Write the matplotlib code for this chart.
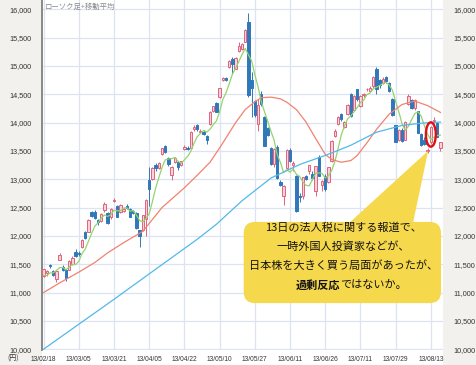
import numpy as np
import pandas as pd
import matplotlib
matplotlib.use('Agg')
import matplotlib.pyplot as plt
from matplotlib.patches import FancyBboxPatch, Polygon, Ellipse, Rectangle

JP = ['Noto Sans CJK JP', 'DejaVu Sans']
NUM = ['Liberation Sans', 'DejaVu Sans']

# daily candles 13/02/18 - 13/08/16 (yen)
opens = [11300, 11340, 11480, 11380, 11230, 11580, 11450, 11400, 11400,
         11500, 11720, 11700, 11800, 12060, 12070, 12420, 12420, 12280, 12260,
         12450, 12400, 12330, 12610, 12530, 12420, 12440, 12530, 12480, 12440,
         12400, 12100, 12100, 12300, 12990, 13000, 13260, 13200, 13440, 13580,
         13380, 13080, 13300, 13300, 13250, 13540, 13560, 13550, 13880, 13960, 13830,
         13840, 13760, 13970, 14200, 14350, 14460, 14760, 14790, 14980, 15130,
         14950, 15260, 15300, 15430, 15770, 14760, 14380, 13970, 14500, 14100, 13900,
         13560, 13270, 13570, 12950, 12700, 13200, 13520, 13250, 13060, 12700,
         12700, 13050, 13140, 13100, 12790, 13400, 12900, 13050, 12950, 13330,
         13760, 13980, 14150, 13930, 14150, 14500, 14220, 14590, 14300, 14480,
         14590, 14560, 14640, 14950, 14750, 14700, 14800, 14700, 14420, 13950,
         13700, 13870,
         13700, 14320, 14400, 14250, 14200, 13800, 13700, 13500, 13650, 14030,
         14000, 13560]
highs = [11420, 11400, 11500, 11400, 11400, 11690, 11480, 11420, 11570,
         11640, 11760, 11730, 11940, 12080, 12300, 12440, 12450, 12300, 12400,
         12600, 12420, 12500, 12670, 12540, 12560, 12490, 12560, 12500, 12460,
         12420, 12110, 12370, 12650, 13225, 13210, 13290, 13300, 13560, 13600,
         13400, 13240, 13400, 13320, 13330, 13600, 13580, 13860, 13950, 13980, 13880,
         13870, 13790, 14200, 14300, 14370, 14620, 14800, 14810, 15110, 15150,
         15150, 15420, 15400, 15650, 15942, 14900, 14400, 14420, 14560, 14110, 13930,
         13570, 13560, 13600, 12980, 12900, 13540, 13560, 13320, 13080, 12760,
         13040, 13080, 13260, 13140, 13240, 13420, 12990, 13100, 13220, 13690,
         13880, 14110, 14170, 14030, 14330, 14520, 14480, 14600, 14480, 14520,
         14620, 14640, 14830, 14980, 14770, 14800, 14820, 14720, 14440, 13960,
         13880, 13900,
         14020, 14500, 14420, 14420, 14210, 13820, 13740, 13560, 13940, 14100,
         14010, 13660]
lows = [11280, 11300, 11430, 11290, 11180, 11570, 11380, 11200, 11390,
        11480, 11630, 11650, 11790, 11950, 12060, 12330, 12290, 12200, 12250,
        12430, 12210, 12300, 12590, 12330, 12400, 12420, 12470, 12330, 12380,
        12120, 11805, 12080, 12000, 12520, 12980, 13140, 13180, 13420, 13470,
        13240, 12990, 13290, 13170, 13230, 13520, 13510, 13530, 13860, 13860, 13820,
        13780, 13620, 13960, 14180, 14180, 14440, 14740, 14740, 14970, 14850,
        14940, 15250, 15290, 15420, 14460, 14100, 14100, 13850, 14300, 13580, 13760,
        13260, 13210, 13000, 12880, 12548, 13180, 13300, 13150, 12415, 12600,
        12650, 12980, 13100, 12990, 12700, 13050, 12800, 12790, 12930, 13300,
        13740, 13960, 14030, 13900, 14130, 14100, 14200, 14380, 14280, 14460,
        14560, 14550, 14620, 14500, 14620, 14690, 14700, 14540, 14110, 13650,
        13680, 13650,
        13690, 14310, 14240, 14230, 13820, 13580, 13600, 13470, 13630, 14000,
        13740, 13500]
closes = [11407, 11372, 11468, 11309, 11385, 11662, 11398, 11253, 11559,
          11606, 11652, 11683, 11932, 11968, 12283, 12349, 12314, 12239, 12381,
          12560, 12220, 12468, 12635, 12338, 12546, 12471, 12493, 12336, 12397,
          12135, 12003, 12362, 12634, 12833, 13192, 13192, 13288, 13549, 13485,
          13275, 13221, 13382, 13220, 13316, 13568, 13529, 13843, 13926, 13884, 13860,
          13799, 13694, 14180, 14285, 14191, 14607, 14782, 14758, 15096, 15037,
          15138, 15360, 15381, 15627, 14483, 14612, 14142, 14311, 14326, 13589, 13774,
          13262, 13533, 13014, 12904, 12877, 13514, 13317, 13289, 12445, 12686,
          13033, 13007, 13245, 13014, 13230, 13062, 12969, 12834, 13213, 13677,
          13852, 14099, 14055, 14018, 14309, 14109, 14472, 14416, 14472, 14506,
          14599, 14615, 14808, 14589, 14658, 14778, 14731, 14562, 14129, 13661,
          13869, 13668,
          14005, 14466, 14258, 14401, 13825, 13605, 13615, 13519, 13924, 14050,
          13752, 13650]
# closes of the four sessions before 02/18 (for the short average)
pre_closes = [11369, 11251, 11307, 11173]

# 25-day and 75-day averages (session index, yen)
ma25_idx = [0, 5, 11, 16, 20, 25, 31, 37, 44, 48, 52, 56, 60, 63, 66, 68, 71,
            74, 76, 79, 82, 85, 88, 90, 93, 96, 98, 101, 104, 108, 112, 116, 120, 124]
ma25_val = [11000, 11170, 11360, 11530, 11700, 11880, 12080, 12500, 12850, 13070,
            13300, 13640, 14000, 14230, 14370, 14440, 14450, 14420, 14360, 14230,
            14010, 13720, 13440, 13350, 13300, 13330, 13420, 13640, 13880, 14150,
            14320, 14380, 14300, 14180]
ma75_idx = [0, 11, 22, 34, 48, 54, 62, 71, 80, 88, 96, 104, 112, 118, 124]
ma75_val = [10000, 10440, 10880, 11370, 11940, 12205, 12620, 13020, 13260, 13420,
            13600, 13830, 13950, 13990, 14010]

tick_labels = ['13/02/18', '13/03/05', '13/03/21', '13/04/05', '13/04/22', '13/05/10',
               '13/05/27', '13/06/11', '13/06/26', '13/07/11', '13/07/29', '13/08/13']
y_ticks = np.arange(10000, 16001, 500)

n = len(closes)
x = np.arange(n)
o = np.array(opens)
h = np.array(highs)
l = np.array(lows)
c = np.array(closes)
ma5 = pd.Series(pre_closes + closes).rolling(5).mean().iloc[len(pre_closes):].values

UP_FACE, UP_EDGE = '#f8d3db', '#e0637c'
DN_FACE, DN_EDGE = '#2f78b9', '#2f78b9'

fig = plt.figure(figsize=(4.76, 3.65), dpi=100, facecolor='white')
fig.patches.append(Rectangle((0, 0), 42 / 476, 1, transform=fig.transFigure,
                             facecolor='#f2f1ee', edgecolor='none', zorder=-5))
fig.patches.append(Rectangle((443 / 476, 0), 33 / 476, 1, transform=fig.transFigure,
                             facecolor='#f2f1ee', edgecolor='none', zorder=-5))
ax = fig.add_axes([42 / 476, 15 / 365, 401 / 476, 350 / 365])
ax.set_facecolor('white')

up = c >= o
ax.vlines(x, l, h, colors=np.where(up, UP_EDGE, DN_EDGE), linewidth=0.7, zorder=2)
body_h = np.maximum(np.abs(c - o), 12)
ax.bar(x[up], body_h[up], bottom=np.minimum(o, c)[up], width=0.75,
       facecolor=UP_FACE, edgecolor=UP_EDGE, linewidth=0.7, zorder=3)
ax.bar(x[~up], body_h[~up], bottom=np.minimum(o, c)[~up], width=0.75,
       facecolor=DN_FACE, edgecolor=DN_EDGE, linewidth=0.7, zorder=3)

ax.plot(x, ma5, color='#93d46e', lw=0.9, zorder=4)
ax.plot(ma25_idx, ma25_val, color='#f2826f', lw=0.9, zorder=4)
ax.plot(ma75_idx, ma75_val, color='#52b9e9', lw=0.9, zorder=4)

ax.set_xlim(-0.5, 124.8)
ax.set_ylim(9985, 16165)
ax.set_xticks(np.arange(0, n, 11))
ax.set_xticklabels(tick_labels, fontsize=4.8, family=NUM, color='#333333')
ax.set_yticks(y_ticks)
ax.set_yticklabels([f'{v:,}' for v in y_ticks], fontsize=5.2, family=NUM, color='#333333')
ax.tick_params(axis='y', length=0, pad=7.5, labelleft=True, labelright=True)
ax.tick_params(axis='x', length=0, pad=4)
ax.grid(True, color='#dde3f3', lw=0.9, zorder=0)
ax.set_axisbelow(True)
for s in ['top', 'right', 'bottom']:
    ax.spines[s].set_visible(False)
ax.spines['left'].set_color('#7f7f7f')
ax.spines['left'].set_linewidth(1.3)

ax.text(0.006, 0.992, 'ローソク足+移動平均', transform=ax.transAxes, va='top', ha='left',
        fontsize=5.3, color='#8a8a8a', family=JP)
fig.text(7 / 476, 6 / 365, '(円)', fontsize=5, color='#333333', family=JP,
         ha='left', va='center')

# highlight of 13th and comment balloon
ax.add_patch(Ellipse((121, 13790), 3.1, 430, facecolor='none', edgecolor='#dd1111',
                     lw=1.7, zorder=6))
yellow = '#f6d84c'
ax.add_patch(Polygon([(0.765, 0.362), (0.925, 0.362), (0.963, 0.569)], closed=True,
                     transform=ax.transAxes, facecolor=yellow, edgecolor='none', zorder=7))
ax.add_patch(FancyBboxPatch((0.503, 0.134), 0.492, 0.232,
                            boxstyle='round,pad=0,rounding_size=0.028',
                            mutation_aspect=401 / 350, transform=ax.transAxes,
                            facecolor=yellow, edgecolor='none', zorder=7))
lines = ['13日の法人税に関する報道で、', '一時外国人投資家などが、', '日本株を大きく買う局面があったが、']
for i, t in enumerate(lines):
    ax.text(0.751, 0.349 - i * 0.0545, t, transform=ax.transAxes, ha='center', va='center',
            fontsize=8, color='#111111', family=JP, zorder=8)
ax.text(0.743, 0.186, '過剰反応', transform=ax.transAxes, ha='right', va='center',
        fontsize=8, fontweight='bold', color='#111111', family=JP, zorder=8)
ax.text(0.743, 0.186, 'ではないか。', transform=ax.transAxes, ha='left', va='center',
        fontsize=8, color='#111111', family=JP, zorder=8)

fig.savefig('out.png', dpi=100, facecolor=fig.get_facecolor())
